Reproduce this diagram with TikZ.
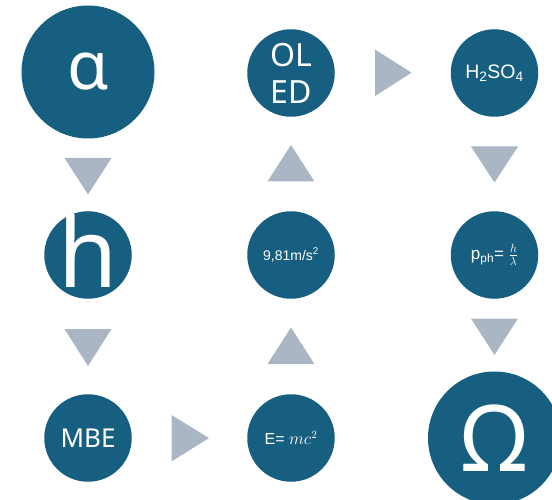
\documentclass[tikz,border=0pt]{standalone}
\usepackage{fontspec}
\setmainfont{Noto Sans}
\newfontfamily\arialfont{Liberation Sans}
\definecolor{bubble}{RGB}{23,95,128}
\definecolor{arrowgray}{RGB}{170,182,196}
\begin{document}
\begin{tikzpicture}[x=1pt,y=-1pt,
    bub/.style={circle,fill=bubble,text=white,inner sep=0pt,minimum size=87.5pt},
    bigbub/.style={bub,minimum size=133pt},
    tri/.style={fill=arrowgray}]
  \path[use as bounding box] (0,0) rectangle (552,500);
  % left column
  \node[bigbub,font=\fontsize{67}{67}\selectfont] at (88,72) (alpha) {α};
  \node[bub,font=\fontsize{96}{96}\selectfont] at (88,255) (h)
    {\makebox[0pt]{\raisebox{\dimexpr4pt-0.5\height}[0pt][0pt]{h}}};
  \node[bub,font=\fontsize{26}{26}\selectfont] at (88,438) (mbe) {MBE};
  % middle column
  \node[bub,font=\fontsize{16}{16}\selectfont] at (291,438) (emc) {\arialfont E= $mc^2$};
  \node[bub,font=\fontsize{14}{14}\selectfont] at (291,255) (grav) {\arialfont 9,81m/s\textsuperscript{2}};
  \node[bub,align=center,font=\fontsize{32}{37}\selectfont] at (291,73) (oled) {OL\\ED};
  % right column
  \node[bub,font=\fontsize{19.5}{19.5}\selectfont] at (494.5,73) (acid) {\arialfont H\textsubscript{2}SO\textsubscript{4}};
  \node[bub,font=\fontsize{17}{17}\selectfont] at (494.5,255) (pph) {\arialfont p\textsubscript{ph}= $\frac{h}{\lambda}$};
  \node[bigbub,font=\fontsize{92}{92}\selectfont] at (494.5,438) (omega) {Ω};
  % arrows
  \fill[tri] (64.5,158) -- (111.5,158) -- (88,194.5) -- cycle;
  \fill[tri] (64.5,329) -- (111.5,329) -- (88,366) -- cycle;
  \fill[tri] (171.5,415) -- (171.5,461.5) -- (209,438) -- cycle;
  \fill[tri] (267.5,364) -- (314.5,364) -- (291,327.5) -- cycle;
  \fill[tri] (267.5,181.5) -- (314.5,181.5) -- (291,145) -- cycle;
  \fill[tri] (375,49.5) -- (375,96) -- (411.5,72.7) -- cycle;
  \fill[tri] (471,146.5) -- (518,146.5) -- (494.5,182.5) -- cycle;
  \fill[tri] (471,318.5) -- (518,318.5) -- (494.5,355) -- cycle;
\end{tikzpicture}
\end{document}
